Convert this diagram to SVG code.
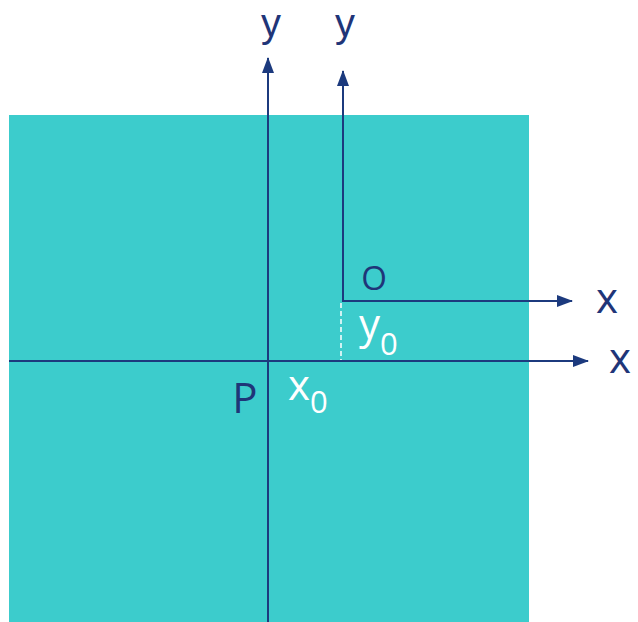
<svg xmlns="http://www.w3.org/2000/svg" width="638" height="622" viewBox="0 0 638 622">
<style>
.ax{stroke:#1c3a7e;stroke-width:2;fill:none}
.dk{fill:#1f3578;font-family:"Open Sans","Liberation Sans",sans-serif}
.top{fill:#1f3578;font-family:"Liberation Sans",Arial,sans-serif}
.wt{fill:#ffffff;font-family:"Open Sans","Liberation Sans",sans-serif}
</style>
<defs>
<marker id="ah2" markerWidth="16" markerHeight="12" refX="15" refY="6" orient="auto" markerUnits="userSpaceOnUse">
<path d="M0,0 L16,6 L0,12 Z" fill="#1c3a7e"/>
</marker>
</defs>
<rect width="638" height="622" fill="#ffffff"/>
<g id="plane"><rect x="9" y="115" width="520" height="507" fill="#3ccccc"/></g>
<g id="connectors">
<line class="ax" x1="268" y1="622" x2="268" y2="58" marker-end="url(#ah2)"/>
<line class="ax" x1="343" y1="302" x2="343" y2="71" marker-end="url(#ah2)"/>
<line class="ax" x1="9" y1="361" x2="588" y2="361" marker-end="url(#ah2)"/>
<line class="ax" x1="342" y1="301" x2="572" y2="301" marker-end="url(#ah2)"/>
<line x1="341" y1="303" x2="341" y2="360" stroke="#ffffff" stroke-width="1.5" stroke-dasharray="5,3"/>
</g>
<g id="labels">
<text class="top" x="271" y="37" font-size="40" text-anchor="middle">y</text>
<text class="top" x="345" y="37" font-size="40" text-anchor="middle">y</text>
<text class="dk" x="607" y="313" font-size="42" text-anchor="middle">x</text>
<text class="dk" x="620" y="373" font-size="42" text-anchor="middle">x</text>
<text class="dk" x="374" y="290" font-size="33" text-anchor="middle">O</text>
<text class="dk" x="245" y="413" font-size="42" text-anchor="middle">P</text>
<text class="wt" x="359" y="339" font-size="42">y<tspan font-size="31" dy="16">0</tspan></text>
<text class="wt" x="288" y="400" font-size="42">x<tspan font-size="31" dy="13">0</tspan></text>
</g>
</svg>
